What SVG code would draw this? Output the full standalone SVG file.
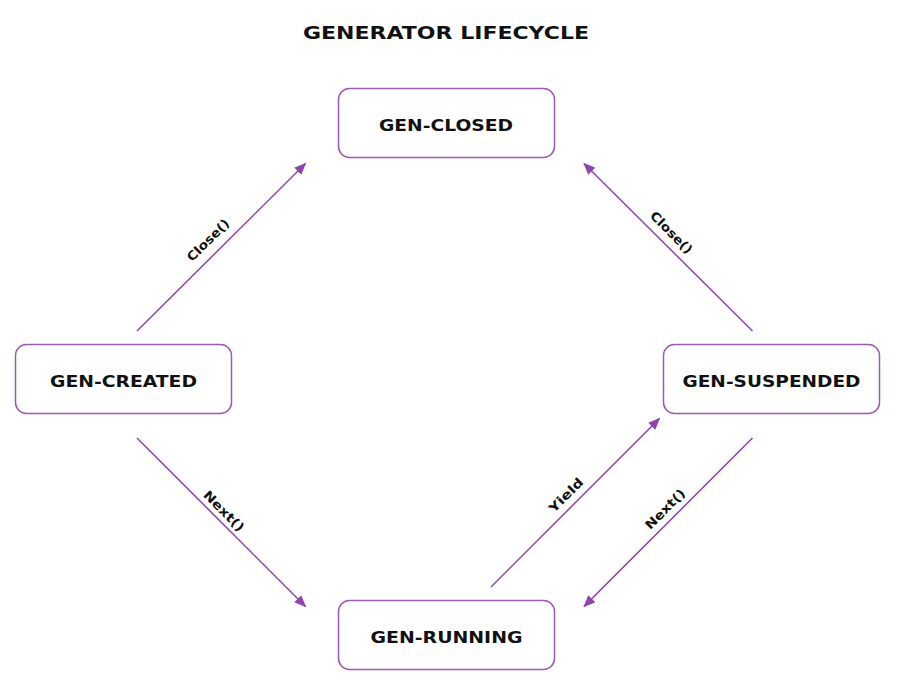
<svg xmlns="http://www.w3.org/2000/svg" width="897" height="693" viewBox="0 0 897 693">
<defs>
<style>
.box{fill:#fff;stroke:#9b59b6;stroke-width:1.5}
.lbl{font-family:"DejaVu Sans","Liberation Sans",sans-serif;font-weight:bold;font-size:15.5px;fill:#111;text-anchor:middle}
.title{font-family:"DejaVu Sans","Liberation Sans",sans-serif;font-weight:bold;font-size:18px;fill:#111;text-anchor:middle}
.edge{stroke:#8e44ad;stroke-width:1.5;fill:none;marker-end:url(#arr)}
.el{font-family:"DejaVu Sans","Liberation Sans",sans-serif;font-weight:bold;font-size:12.5px;fill:#111;text-anchor:middle}
</style>
<marker id="arr" viewBox="0 0 12 10" refX="11" refY="5" markerWidth="12" markerHeight="10" markerUnits="userSpaceOnUse" orient="auto">
<path d="M0,0 L12,5 L0,10 z" fill="#8e44ad"/>
</marker>
</defs>
<rect width="897" height="693" fill="#fff"/>
<text class="title" x="446" y="38.5" textLength="286" lengthAdjust="spacingAndGlyphs">GENERATOR LIFECYCLE</text>
<g id="connectors">
<line class="edge" x1="137" y1="331" x2="305.5" y2="163.5"/>
<line class="edge" x1="752.5" y1="331" x2="584" y2="163.5"/>
<line class="edge" x1="137" y1="438" x2="305.5" y2="606.5"/>
<line class="edge" x1="491" y1="587" x2="659.5" y2="418.5"/>
<line class="edge" x1="752.5" y1="438" x2="584" y2="606.5"/>
<text class="el" x="208" y="240" dy="0.36em" transform="rotate(-45 208 240)" textLength="54" lengthAdjust="spacingAndGlyphs">Close()</text>
<text class="el" x="671.5" y="232.5" dy="0.36em" transform="rotate(45 671.5 232.5)" textLength="54" lengthAdjust="spacingAndGlyphs">Close()</text>
<text class="el" x="224" y="511" dy="0.36em" transform="rotate(45 224 511)" textLength="52" lengthAdjust="spacingAndGlyphs">Next()</text>
<text class="el" x="566" y="495" dy="0.36em" transform="rotate(-45 566 495)" textLength="43" lengthAdjust="spacingAndGlyphs">Yield</text>
<text class="el" x="665" y="509" dy="0.36em" transform="rotate(-45 665 509)" textLength="51" lengthAdjust="spacingAndGlyphs">Next()</text>
</g>
<g id="gen-closed">
<rect class="box" x="338.5" y="88.5" width="216" height="69" rx="11"/>
<text class="lbl" x="446" y="130.5" textLength="134" lengthAdjust="spacingAndGlyphs">GEN-CLOSED</text>
</g>
<g id="gen-created">
<rect class="box" x="15.5" y="344.5" width="216" height="69" rx="11"/>
<text class="lbl" x="123.5" y="386.5" textLength="147" lengthAdjust="spacingAndGlyphs">GEN-CREATED</text>
</g>
<g id="gen-suspended">
<rect class="box" x="663.5" y="344.5" width="216" height="69" rx="11"/>
<text class="lbl" x="771.5" y="386.5" textLength="178" lengthAdjust="spacingAndGlyphs">GEN-SUSPENDED</text>
</g>
<g id="gen-running">
<rect class="box" x="338.5" y="600.5" width="216" height="69" rx="11"/>
<text class="lbl" x="446.5" y="642.5" textLength="152" lengthAdjust="spacingAndGlyphs">GEN-RUNNING</text>
</g>
</svg>
